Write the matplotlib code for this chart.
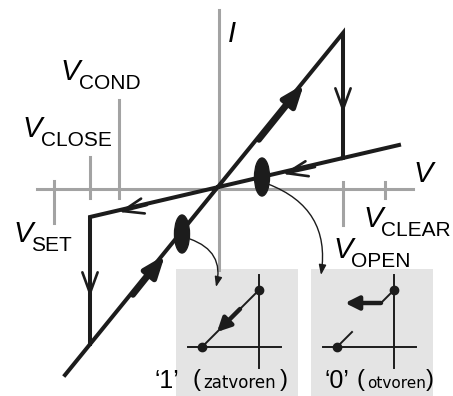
import matplotlib.pyplot as plt
from matplotlib.patches import Ellipse

plt.rcParams['font.family'] = 'Liberation Sans'

# threshold voltages and their tick extents on the V axis
tick_names = ['SET', 'CLOSE', 'COND', 'OPEN', 'CLEAR']
tick_v = [-16.5, -12.9, -10.0, 12.4, 16.6]
tick_top = [0.8, 3.2, 8.9, 0.7, 0.7]
tick_bottom = [-3.4, -0.9, -0.9, -3.6, -0.9]

# hysteresis loop: closed branch up to V_OPEN, drop, open branch back to V_CLOSE, drop
loop_v = [-15.4, 12.4, 12.4, -12.9, -12.9]
loop_i = [-18.6, 15.6, 3.1, -2.8, -15.5]
# open branch keeps going past V_OPEN
tail_v = [12.4, 18.0]
tail_i = [3.1, 4.4]

# direction arrows on the loop (tail -> tip)
chev_tail = [(12.4, 11.2), (9.6, 2.2), (-7.2, -1.6), (-12.9, -7.2)]
chev_tip = [(12.4, 7.6), (6.4, 1.5), (-10.0, -2.3), (-12.9, -10.8)]
fill_tail = [(4.0, 4.9), (-8.6, -10.6)]
fill_tip = [(8.5, 10.5), (-5.4, -6.6)]

# marked operating points on each branch
state_v = [4.3, -3.7]
state_i = [1.2, -4.5]

# sketch in the small panels (same frame for both)
mini_top = (0.0, 5.7)
mini_bottom = (-5.7, 0.0)

grey = '#a3a3a3'
ink = '#1c1c1c'
panel = '#e4e4e4'

fig = plt.figure(figsize=(4.53, 3.96), dpi=100)
ax = fig.add_axes([0, 0, 1, 1])
ax.set_xlim(-21.9, 23.4)
ax.set_ylim(-20.7, 18.9)
ax.axis('off')
ax.set_zorder(3)

# I-V axes
ax.plot([0, 0], [-8.1, 17.9], color=grey, lw=2.2, zorder=1)
ax.plot([-18.2, 19.4], [0, 0], color=grey, lw=2.2, zorder=1)
for v, t, b in zip(tick_v, tick_top, tick_bottom):
    ax.plot([v, v], [b, t], color=grey, lw=2.2, zorder=1)

ax.plot(loop_v, loop_i, color=ink, lw=2.9, solid_joinstyle='miter', zorder=3)
ax.plot(tail_v, tail_i, color=ink, lw=2.9, zorder=3)

for tail, tip in zip(chev_tail, chev_tip):
    ax.annotate('', xy=tip, xytext=tail, zorder=4,
                arrowprops=dict(arrowstyle='->,head_length=1.5,head_width=0.55',
                                color=ink, lw=1.9, shrinkA=0, shrinkB=0))
for tail, tip in zip(fill_tail, fill_tip):
    ax.annotate('', xy=tip, xytext=tail, zorder=4,
                arrowprops=dict(arrowstyle='-|>,head_length=1.3,head_width=0.5',
                                color=ink, lw=4.0, shrinkA=0, shrinkB=0))

for v, i in zip(state_v, state_i):
    ax.add_patch(Ellipse((v, i), 1.5, 3.8, color=ink, zorder=5))

# curved pointers from the marked states to the panels
ax.annotate('', xy=(-0.3, -9.8), xytext=(-2.9, -5.0), zorder=4,
            arrowprops=dict(arrowstyle='-|>,head_length=0.6,head_width=0.22',
                            color=ink, lw=1.0, shrinkA=0, shrinkB=0,
                            connectionstyle='arc3,rad=-0.45'))
ax.annotate('', xy=(10.2, -8.6), xytext=(4.9, 0.5), zorder=4,
            arrowprops=dict(arrowstyle='-|>,head_length=0.6,head_width=0.22',
                            color=ink, lw=1.0, shrinkA=0, shrinkB=0,
                            connectionstyle='arc3,rad=-0.4'))

# axis names
ax.text(0.9, 14.7, 'I', fontsize=21, style='italic', ha='left', va='baseline')
ax.text(19.4, 0.7, 'V', fontsize=21, style='italic', ha='left', va='baseline')

# threshold labels: italic V with upright subscript
label_xy = {'SET': (-20.6, -5.3), 'CLOSE': (-19.7, 5.2), 'COND': (-15.9, 10.9),
            'OPEN': (11.4, -6.9), 'CLEAR': (14.4, -3.8)}
for name in tick_names:
    x, y = label_xy[name]
    ax.text(x, y, 'V', fontsize=21, style='italic', ha='left', va='baseline')
    ax.text(x + 1.85, y - 0.9, name, fontsize=15, ha='left', va='baseline')


def mini_panel(left, closed):
    sub = fig.add_axes([left / 453, 0, 122 / 453, 127 / 396])
    sub.set_zorder(1)
    sub.set_xlim(-8.3, 3.9)
    sub.set_ylim(-4.9, 7.8)
    sub.set_facecolor(panel)
    for s in sub.spines.values():
        s.set_visible(False)
    sub.set_xticks([])
    sub.set_yticks([])
    sub.plot([0, 0], [-2.1, 7.2], color=ink, lw=1.4)
    sub.plot([-7.1, 2.2], [0, 0], color=ink, lw=1.4)
    sub.plot(*zip(mini_top, mini_bottom), ls='none', marker='o', ms=6, color=ink)
    if closed:
        sub.plot(*zip(mini_top, mini_bottom), color=ink, lw=1.4)
        sub.annotate('', xy=(-4.2, 1.5), xytext=(-1.9, 3.8),
                     arrowprops=dict(arrowstyle='-|>,head_length=0.8,head_width=0.4',
                                     color=ink, lw=3.2, shrinkA=0, shrinkB=0))
    else:
        sub.plot([-5.7, -4.2], [0, 1.5], color=ink, lw=1.4)
        sub.plot([0, -1.3], [5.7, 4.4], color=ink, lw=1.4)
        sub.annotate('', xy=(-4.9, 4.4), xytext=(-1.3, 4.4),
                     arrowprops=dict(arrowstyle='-|>,head_length=0.8,head_width=0.4',
                                     color=ink, lw=3.2, shrinkA=0, shrinkB=0))
    return sub


mini_panel(176, True)
mini_panel(311, False)

# state captions under the panels
ax.text(-6.4, -19.9, '‘1’', fontsize=18, ha='left', va='baseline')
ax.text(-2.7, -19.7, '(', fontsize=17, ha='left', va='baseline')
ax.text(-1.6, -19.9, 'zatvoren', fontsize=12, family='DejaVu Sans', ha='left', va='baseline')
ax.text(6.1, -19.7, ')', fontsize=17, ha='left', va='baseline')
ax.text(10.6, -19.9, '‘0’', fontsize=18, ha='left', va='baseline')
ax.text(13.7, -19.7, '(', fontsize=17, ha='left', va='baseline')
ax.text(14.8, -19.9, 'otvoren', fontsize=11, family='DejaVu Sans', ha='left', va='baseline')
ax.text(20.7, -19.7, ')', fontsize=17, ha='left', va='baseline')

fig.savefig('out.png', dpi=100)
